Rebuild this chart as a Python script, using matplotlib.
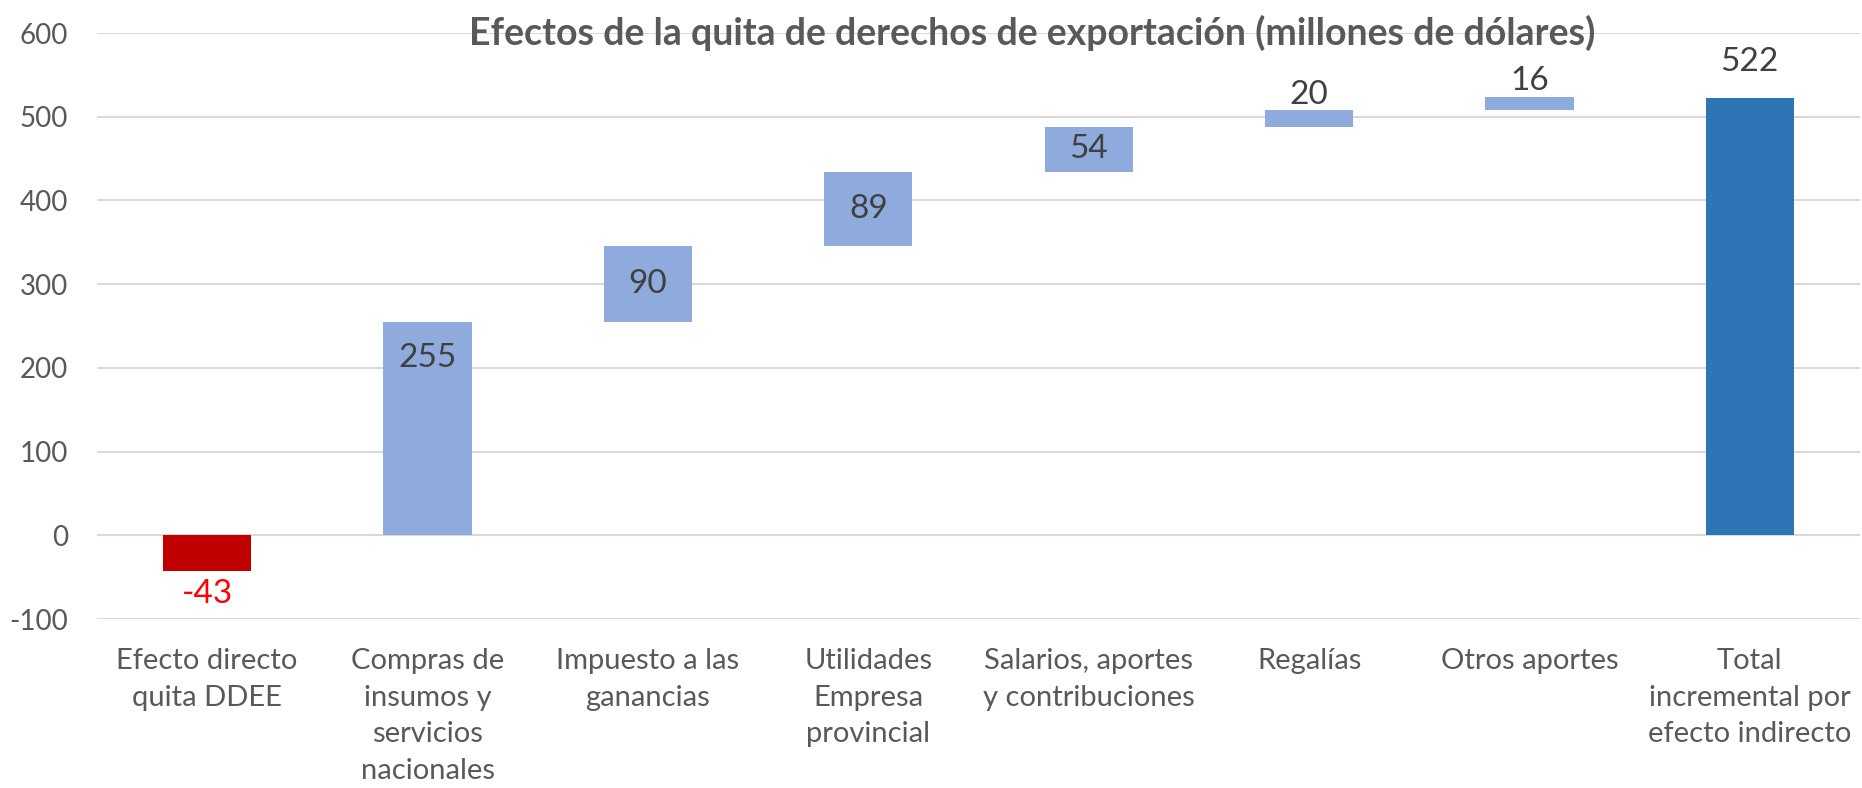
import matplotlib
matplotlib.use("Agg")
import matplotlib.pyplot as plt
import numpy as np

# data
categories = [
    "Efecto directo\nquita DDEE",
    "Compras de\ninsumos y\nservicios\nnacionales",
    "Impuesto a las\nganancias",
    "Utilidades\nEmpresa\nprovincial",
    "Salarios, aportes\ny contribuciones",
    "Regalías",
    "Otros aportes",
    "Total\nincremental por\nefecto indirecto",
]
direct_effect = -43
steps = [255, 90, 89, 54, 20, 16]
total = 522
y_ticks = [-100, 0, 100, 200, 300, 400, 500, 600]

plt.rcParams["font.family"] = ["Lato", "DejaVu Sans"]
plt.rcParams["axes.unicode_minus"] = False

fig = plt.figure(figsize=(18.62, 7.88), dpi=100)
ax = fig.add_axes([97 / 1862, 1 - 619 / 788, 1763 / 1862, 586 / 788])

x = np.arange(len(categories))
w = 0.40
bottoms = np.concatenate([[0], np.cumsum(steps)[:-1]])

ax.bar(x[0], direct_effect, width=w, color="#C00000", zorder=2)
ax.bar(x[1:7], steps, bottom=bottoms, width=w, color="#8FAADC", zorder=2)
ax.bar(x[7], total, width=w, color="#2E75B6", zorder=2)

lab = dict(ha="center", va="center", fontsize=24, color="#404040",
           textcoords="offset points")
ax.annotate(str(direct_effect), (x[0], direct_effect), xytext=(0, -16),
            **{**lab, "color": "#FF0000"})
# label placement per bar: (anchor, offset in points)
modes = [("top", -26), ("mid", 0), ("mid", 0), ("mid", 0), ("top", 11), ("top", 11)]
for i, (v, b) in enumerate(zip(steps, bottoms)):
    where, off = modes[i]
    y = b + v if where == "top" else b + v / 2
    ax.annotate(str(v), (x[i + 1], y), xytext=(0, off), **lab)
ax.annotate(str(total), (x[7], total), xytext=(0, 26), **lab)

ax.set_xlim(-0.5, 7.5)
ax.set_ylim(-100, 600)
ax.set_yticks(y_ticks)
ax.set_xticks(x)
ax.set_xticklabels(categories, fontsize=21, color="#595959", linespacing=1.5)
ax.tick_params(axis="y", length=0, pad=21, labelsize=20, labelcolor="#595959")
ax.tick_params(axis="x", length=0, pad=21)
ax.grid(axis="y", color="#D9D9D9", linewidth=1.5, zorder=0)
for s in ax.spines.values():
    s.set_visible(False)

fig.text(1032 / 1862, 1 - 33 / 788,
         "Efectos de la quita de derechos de exportación (millones de dólares)",
         ha="center", va="center", fontsize=27, fontweight="bold", color="#595959")

fig.savefig("out.png", dpi=100)
